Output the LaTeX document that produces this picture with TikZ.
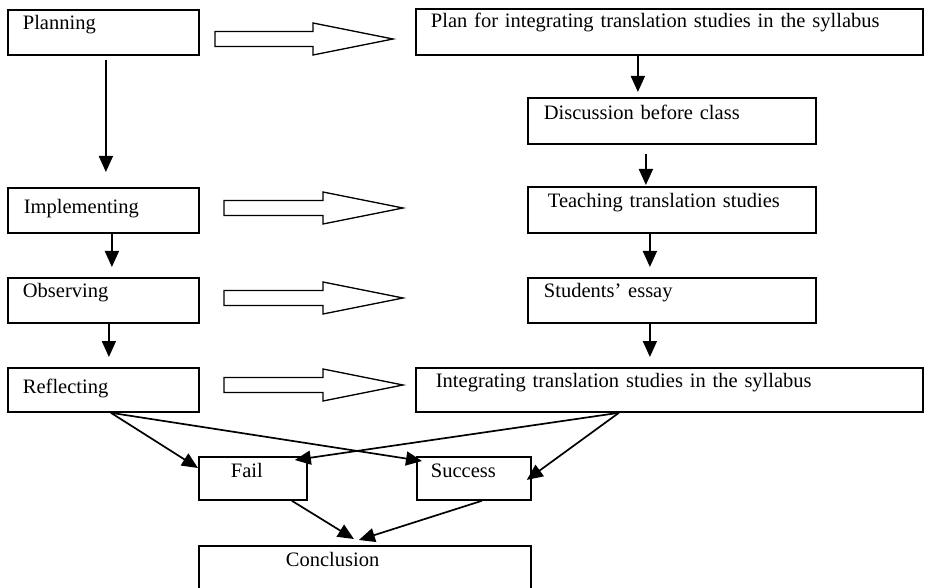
\documentclass[tikz,border=0pt]{standalone}
\usepackage{fontspec}
\setmainfont{Liberation Serif}
\usetikzlibrary{arrows.meta,calc}

\tikzset{
  stage/.style={draw, line width=1.8pt, anchor=north west, inner xsep=0pt, inner ysep=0pt,
    align=left, font=\fontsize{20.5}{24}\selectfont, text height=20pt, text depth=25pt},
  down/.style={line width=1.7pt, -{Triangle[width=14pt,length=16pt]}},
  fat/.style={line width=1.3pt, line join=miter, to path={
    ($(\tikztostart)+(0,-7.5)$) -- ($(\tikztotarget)+(-80,-7.5)$) -- ($(\tikztotarget)+(-80,-16)$)
    -- (\tikztotarget) -- ($(\tikztotarget)+(-80,16)$) -- ($(\tikztotarget)+(-80,7.5)$)
    -- ($(\tikztostart)+(0,7.5)$) -- cycle}}
}

\begin{document}
\begin{tikzpicture}[x=1pt,y=-1pt]
\useasboundingbox (0,0) rectangle (932,588);
%\draw[step=50,gray,very thin] (0,0) grid (932,588);

% left column
\node[stage, text width=191pt] (planning) at (7,9) {\hspace*{15pt}Planning};
\node[stage, text width=191pt, text height=26pt, text depth=19pt] (implementing) at (7,187) {\hspace*{16pt}Implementing};
\node[stage, text width=191pt] (observing) at (7,277) {\hspace*{15pt}Observing};
\node[stage, text width=191pt, text height=26pt, text depth=18pt] (reflecting) at (7,367) {\hspace*{15pt}Reflecting};

% right column
\node[stage, text width=507pt, text height=19pt, text depth=27pt] (plan) at (415,8) {\hspace*{15pt}Plan for integrating translation studies in the syllabus};
\node[stage, text width=288pt, text height=22pt, text depth=24pt] (discussion) at (527,97) {\hspace*{16pt}Discussion before class};
\node[stage, text width=288pt, text height=21pt, text depth=25pt] (teaching) at (527,186) {\hspace*{20pt}Teaching translation studies};
\node[stage, text width=288pt] (students) at (527,277) {\hspace*{16pt}Students’ essay};
\node[stage, text width=507pt, text depth=24pt] (integrating) at (415,367) {\hspace*{20pt}Integrating translation studies in the syllabus};

% outcome
\node[stage, text width=108pt, text height=21pt, text depth=22pt] (fail) at (198,456) {\hspace*{32pt}Fail};
\node[stage, text width=114pt, text height=21pt, text depth=22pt] (success) at (416,456) {\hspace*{14pt}Success};
\node[stage, text width=332pt, text height=21pt, text depth=28pt] (conclusion) at (198,545) {\hspace*{87pt}Conclusion};

% hollow arrows
\coordinate (f1) at (215,39);  \coordinate (t1) at (393,39);
\coordinate (f2) at (224,208); \coordinate (t2) at (403,208);
\coordinate (f3) at (224,298); \coordinate (t3) at (403,298);
\coordinate (f4) at (224,385); \coordinate (t4) at (403,385);
\draw[fat] (f1) to (t1);
\draw[fat] (f2) to (t2);
\draw[fat] (f3) to (t3);
\draw[fat] (f4) to (t4);

% down arrows
\draw[down, shorten <=4pt, shorten >=15pt] ([xshift=2.5]planning.south) -- ([xshift=2.5]implementing.north);
\draw[down, shorten >=10pt] ([xshift=8.5]implementing.south) -- ([xshift=8.5]observing.north);
\draw[down, shorten >=10pt] ([xshift=5.5]observing.south) -- ([xshift=5.5]reflecting.north);
\draw[down, shorten >=5pt] ([xshift=-31.5]plan.south) -- ([xshift=-34]discussion.north);
\draw[down, shorten <=9pt, shorten >=1pt] ([xshift=-26]discussion.south) -- ([xshift=-26]teaching.north);
\draw[down, shorten >=10pt] ([xshift=-22]teaching.south) -- ([xshift=-22]students.north);
\draw[down, shorten >=10pt] ([xshift=-22]students.south) -- ([xshift=-19.5]integrating.north);

% to fail / success
\draw[down] ([xshift=7.5]reflecting.south) -- ([yshift=-12]fail.north west);
\draw[down] ([xshift=7.5]reflecting.south) -- ([xshift=6,yshift=-5]success.north west);
\draw[down] ([xshift=-50.5]integrating.south) -- ([xshift=-13,yshift=-4]fail.north east);
\draw[down] ([xshift=-50.5]integrating.south) -- ([xshift=-5,yshift=-1.5]success.east);
\draw[down] ([xshift=39]fail.south) -- ([xshift=-11,yshift=6]conclusion.north);
\draw[down] ([xshift=8]success.south) -- ([xshift=-6,yshift=5]conclusion.north);
\end{tikzpicture}
\end{document}
